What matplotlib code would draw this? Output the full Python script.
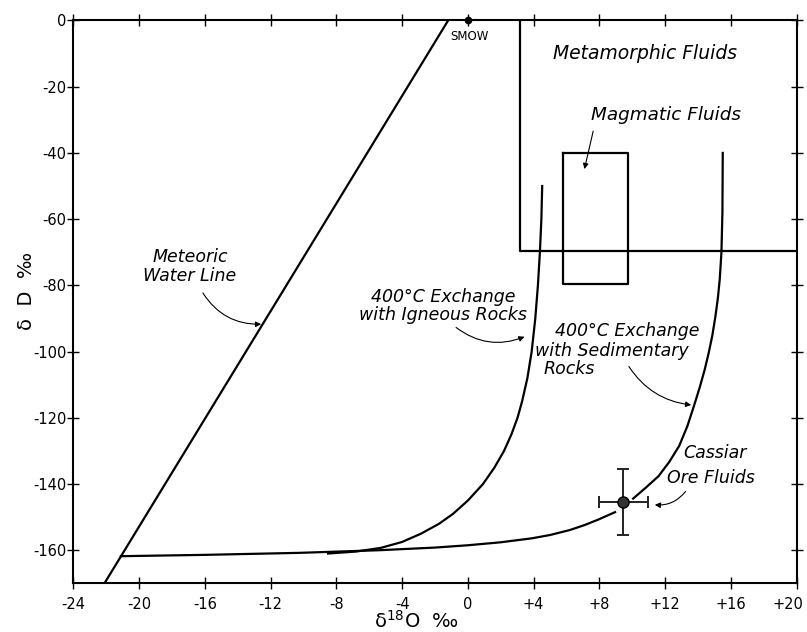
import matplotlib
matplotlib.use("Agg")
import matplotlib.pyplot as plt
import matplotlib.transforms as mtransforms

# values (delta18O, deltaD, per mil)
meteoric_x = [-22.1, -1.2]
meteoric_y = [-170, 0]

smow_x, smow_y = 0, 0

# metamorphic field outline (top and right sides are the axes frame)
meta_x = [3.2, 3.2, 20]
meta_y = [0, -69.5, -69.5]

# magmatic box
mag_x = [5.8, 9.75, 9.75, 5.8, 5.8]
mag_y = [-40, -40, -79.5, -79.5, -40]

# 400C exchange with igneous rocks
ign_x = [4.52, 4.47, 4.38, 4.26, 4.10, 3.88, 3.62, 3.30, 3.02, 2.65, 2.20, 1.62, 0.92,
         0.0, -0.9, -1.75, -2.85, -4.0, -5.3, -6.8, -8.5]
ign_y = [-50, -60, -70, -80, -90, -100, -108, -115, -120, -125, -130, -135, -140,
         -145, -149, -152, -155, -157.5, -159.3, -160.4, -161.0]

# 400C exchange with sedimentary rocks (lower part, broken at the Cassiar point)
sed_low_x = [-21.1, -16, -10.3, -5.4, -2, 0, 2, 3.9, 5.0, 6.2, 7.1, 7.95, 8.95]
sed_low_y = [-161.8, -161.4, -160.8, -160.0, -159.2, -158.5, -157.6, -156.4, -155.4, -153.9,
             -152.4, -150.7, -148.5]
sed_up_x = [10.05, 10.8, 11.6, 12.25, 12.85, 13.35, 13.75, 14.1, 14.4, 14.65, 14.86, 15.05,
            15.2, 15.32, 15.42, 15.48, 15.5]
sed_up_y = [-144.4, -141.2, -137.6, -133.3, -128.5, -122.5, -116.4, -110.8, -105.5, -100.3,
            -95.3, -89.5, -84, -78, -70, -58, -40]

# Cassiar ore fluids
cas_x, cas_y = 9.45, -145.5
cas_xerr, cas_yerr = 1.5, 10

xticks = [-24, -20, -16, -12, -8, -4, 0, 4, 8, 12, 16, 20]
xlabels = ["-24", "-20", "-16", "-12", "-8", "-4", "0", "+4", "+8", "+12", "+16", "+20"]
yticks = [0, -20, -40, -60, -80, -100, -120, -140, -160]
ylabels = ["0", "-20", "-40", "-60", "-80", "-100", "-120", "-140", "-160"]

plt.rcParams["font.family"] = ["DejaVu Sans"]
plt.rcParams["axes.unicode_minus"] = False

fig = plt.figure(figsize=(8.07, 6.32), dpi=100)
ax = fig.add_axes([0.0907, 0.077, 0.8966, 0.8906])

lw = 1.6
ax.plot(meteoric_x, meteoric_y, color="black", lw=lw)
ax.plot(meta_x, meta_y, color="black", lw=lw)
ax.plot(mag_x, mag_y, color="black", lw=lw)
ax.plot(ign_x, ign_y, color="black", lw=lw)
ax.plot(sed_low_x, sed_low_y, color="black", lw=lw)
ax.plot(sed_up_x, sed_up_y, color="black", lw=lw)

ax.plot(smow_x, smow_y, "o", color="black", ms=4.5, clip_on=False, zorder=5)
ax.text(smow_x + 0.1, -3.0, "SMOW", fontsize=8.5, ha="center", va="top")

ax.errorbar(cas_x, cas_y, xerr=cas_xerr, yerr=cas_yerr, fmt="o", color="#222222",
            ms=8, mfc="#333333", mec="black", elinewidth=1.4, capsize=4, capthick=1.4, zorder=5)

txt = dict(fontsize=12.5, style="italic")
arrow = dict(arrowstyle="-|>", color="black", lw=0.8, mutation_scale=8)

ax.text(10.8, -10, "Metamorphic Fluids", ha="center", va="center", fontsize=13.5, style="italic")
ax.text(12.05, -28.6, "Magmatic Fluids", ha="center", va="center", fontsize=13.2, style="italic")
ax.annotate("", xy=(7.05, -45.7), xytext=(7.66, -32.6), arrowprops=arrow)

ax.text(-16.9, -74.3, "Meteoric\nWater Line", ha="center", va="center",
        linespacing=1.05, **txt)
ax.annotate("", xy=(-12.4, -91.7), xytext=(-16.2, -81.6),
            arrowprops=dict(arrow, connectionstyle="arc3,rad=0.3"))

ax.text(-1.5, -86.2, "400°C Exchange\nwith Igneous Rocks", ha="center", va="center",
        linespacing=1.0, **txt)
ax.annotate("", xy=(3.6, -95.2), xytext=(-0.85, -92.2),
            arrowprops=dict(arrow, connectionstyle="arc3,rad=0.3"))

ax.text(5.3, -93.8, "400°C Exchange", ha="left", va="center", **txt)
ax.text(4.1, -99.9, "with Sedimentary", ha="left", va="center", **txt)
ax.text(4.6, -105.4, "Rocks", ha="left", va="center", **txt)
ax.annotate("", xy=(13.75, -116.2), xytext=(9.7, -103.8),
            arrowprops=dict(arrow, connectionstyle="arc3,rad=0.25"))

ax.text(15.05, -130.5, "Cassiar", ha="center", va="center", **txt)
ax.text(14.75, -138.1, "Ore Fluids", ha="center", va="center", **txt)
ax.annotate("", xy=(11.2, -146.2), xytext=(13.34, -141.6),
            arrowprops=dict(arrow, connectionstyle="arc3,rad=-0.3"))

ax.set_xlim(-24, 20)
ax.set_ylim(-170, 0)
ax.set_xticks(xticks)
ax.set_xticklabels(xlabels)
ax.set_yticks(yticks)
ax.set_yticklabels(ylabels)
ax.tick_params(direction="inout", length=9, width=1, labelsize=10.5,
               top=True, right=True)
ax.tick_params(axis="x", pad=5)
ax.tick_params(axis="y", pad=0.5)
for s in ax.spines.values():
    s.set_linewidth(1.5)

# last x label sits a bit left of its tick so it stays inside the picture
last = ax.get_xticklabels()[-1]
last.set_transform(last.get_transform() + mtransforms.ScaledTranslation(-6 / 72, 0, fig.dpi_scale_trans))

ax.set_xlabel("δ$^{18}$O  ‰", fontsize=14)
ax.xaxis.set_label_coords(0.475, -0.048)
ax.set_ylabel("δ  D  ‰", fontsize=14)
ax.yaxis.set_label_coords(-0.052, 0.519)

fig.savefig("out.png", dpi=100)
